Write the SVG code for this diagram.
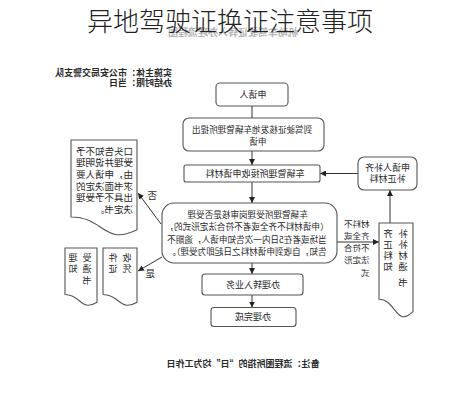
<svg xmlns="http://www.w3.org/2000/svg" width="459" height="400" viewBox="0 0 459 400">
<defs>
<style>
.t{font-family:"Noto Sans CJK SC","Noto Sans CJK JP",sans-serif;font-size:9px;fill:#2a2a2a}
.s{font-size:8.6px}
.c{text-anchor:middle}
.b{font-weight:bold}
.box{fill:#fff;stroke:#555;stroke-width:1.1}
.ln{fill:none;stroke:#333;stroke-width:1}
.title{font-family:"Noto Sans CJK SC","Noto Sans CJK JP",sans-serif;font-size:26px;font-weight:300;fill:#222;text-anchor:middle}
.faint{font-family:"Noto Sans CJK SC","Noto Sans CJK JP",sans-serif;font-size:10px;font-weight:bold;fill:#b5b5b5}
</style>
<marker id="ah" viewBox="0 0 10 10" refX="10" refY="5" markerWidth="6" markerHeight="6" orient="auto" markerUnits="userSpaceOnUse">
<path d="M0,0 L10,5 L0,10 z" fill="#222"/>
</marker>
</defs>
<rect width="459" height="400" fill="#fff"/>
<g transform="matrix(-1 0 0 1 459 0)">
<text class="faint" x="161" y="36">机动车驾驶证转入办理流程图</text>
<g id="header">
<text class="t b" x="287" y="76">实施主体：市公安局交警支队</text>
<text class="t b" x="287" y="86">办结时限：当日</text>
</g>
<g id="connectors">
<path class="ln" d="M207,106 V118"/>
<path class="ln" d="M207,151 V165" marker-end="url(#ah)"/>
<path class="ln" d="M207,182 V203" marker-end="url(#ah)"/>
<path class="ln" d="M207,263 V274" marker-end="url(#ah)"/>
<path class="ln" d="M207,295 V307.5" marker-end="url(#ah)"/>
<path class="ln" d="M101,173.5 H139" marker-end="url(#ah)"/>
<path class="ln" d="M69,223 V190" marker-end="url(#ah)"/>
<path class="ln" d="M122,242 H80" marker-end="url(#ah)"/>
<path class="ln" d="M298,224 L321,193" marker-end="url(#ah)"/>
<path class="ln" d="M297,257 L321,271" marker-end="url(#ah)"/>
<text class="t" x="302" y="198.5" style="font-size:9.5px">否</text>
<text class="t" x="304" y="276.5" style="font-size:9.5px">是</text>
<text class="t" x="89.5" y="227" style="font-size:8.5px">材料不</text>
<text class="t" x="89.5" y="239" style="font-size:8.5px">齐全或</text>
<text class="t" x="89.5" y="251" style="font-size:8.5px">不符合</text>
<text class="t" x="89.5" y="263" style="font-size:8.5px">法定形</text>
<text class="t" x="89.5" y="276" style="font-size:8.5px">式</text>
</g>
<g id="n1">
<rect class="box" x="171" y="83" width="72" height="23" rx="4"/>
<text class="t c" x="206" y="98">申请人</text>
</g>
<g id="n2">
<rect class="box" x="135" y="118" width="141" height="33" rx="6"/>
<text class="t s c" x="207" y="133">到驾驶证核发地车辆管理所提出</text>
<text class="t s c" x="201" y="145">申请</text>
</g>
<g id="n3">
<rect class="box" x="139" y="165" width="136" height="17" rx="2"/>
<text class="t c" x="204" y="176.5">车辆管理所接收申请材料</text>
</g>
<g id="n4">
<rect class="box" x="122" y="203" width="175" height="60" rx="12"/>
<text class="t s c" x="211.5" y="218">车辆管理所受理岗审核是否受理</text>
<text class="t s c" x="212" y="230">（申请材料不齐全或者不符合法定形式的，</text>
<text class="t s c" x="212" y="242.5">当场或者在5日内一次告知申请人，逾期不</text>
<text class="t s c" x="212" y="255">告知，自收到申请材料之日起即为受理）。</text>
</g>
<g id="n5">
<rect class="box" x="156" y="274" width="101" height="21" rx="3"/>
<text class="t c" x="206" y="287.5">办理转入业务</text>
</g>
<g id="n6">
<rect class="box" x="163" y="307.5" width="85" height="19" rx="3"/>
<text class="t c" x="206" y="320">办理完成</text>
</g>
<g id="n7">
<rect class="box" x="42" y="157" width="59" height="33" rx="6"/>
<text class="t c" x="71.5" y="171">申请人补齐</text>
<text class="t c" x="71.5" y="182">补正材料</text>
</g>
<g id="n8">
<path class="box" d="M46,223 H80 V299.2 C63,299.2 63,328.2 46,311.7 Z"/>
<text class="t" x="51.3" y="236.5" style="font-size:9.5px;letter-spacing:5.5px">补齐</text>
<text class="t" x="51.3" y="247.5" style="font-size:9.5px;letter-spacing:5.5px">补正</text>
<text class="t" x="51.3" y="258.5" style="font-size:9.5px;letter-spacing:5.5px">材料</text>
<text class="t" x="51.3" y="269.5" style="font-size:9.5px;letter-spacing:5.5px">通知</text>
<text class="t" x="51.3" y="285.5" style="font-size:9.5px;letter-spacing:5.5px">书</text>
</g>
<g id="n9">
<path class="box" d="M322,140 H388 V217 C355,217 355,246.3 322,229.7 Z"/>
<text class="t" x="326" y="154.5" style="font-size:9.5px">口头告知不予</text>
<text class="t" x="326" y="166.2" style="font-size:9.5px">受理并说明理</text>
<text class="t" x="326" y="177.9" style="font-size:9.5px">由，申请人要</text>
<text class="t" x="326" y="189.6" style="font-size:9.5px">求书面决定的</text>
<text class="t" x="326" y="201.3" style="font-size:9.5px">出具不予受理</text>
<text class="t" x="326" y="213" style="font-size:9.5px">决定书。</text>
</g>
<g id="n10">
<path class="box" d="M322,248 H356 V294.5 C339,294.5 339,312.2 322,302.2 Z"/>
<text class="t" x="327.5" y="260.5" style="letter-spacing:5px">收件</text>
<text class="t" x="327.5" y="271.5" style="letter-spacing:5px">凭证</text>
</g>
<g id="n11">
<path class="box" d="M362,248 H394 V294.5 C378,294.5 378,312.2 362,302.2 Z"/>
<text class="t" x="367.5" y="260.5" style="letter-spacing:5px">受理</text>
<text class="t" x="367.5" y="271.5" style="letter-spacing:5px">通知</text>
<text class="t" x="367.5" y="283.5" style="letter-spacing:5px">书</text>
</g>
<g id="note">
<text class="t b c" x="216" y="366.5">备注：流程图所指的“日”均为工作日</text>
</g>
</g>
<text class="title" x="230" y="31">异地驾驶证换证注意事项</text>
</svg>
